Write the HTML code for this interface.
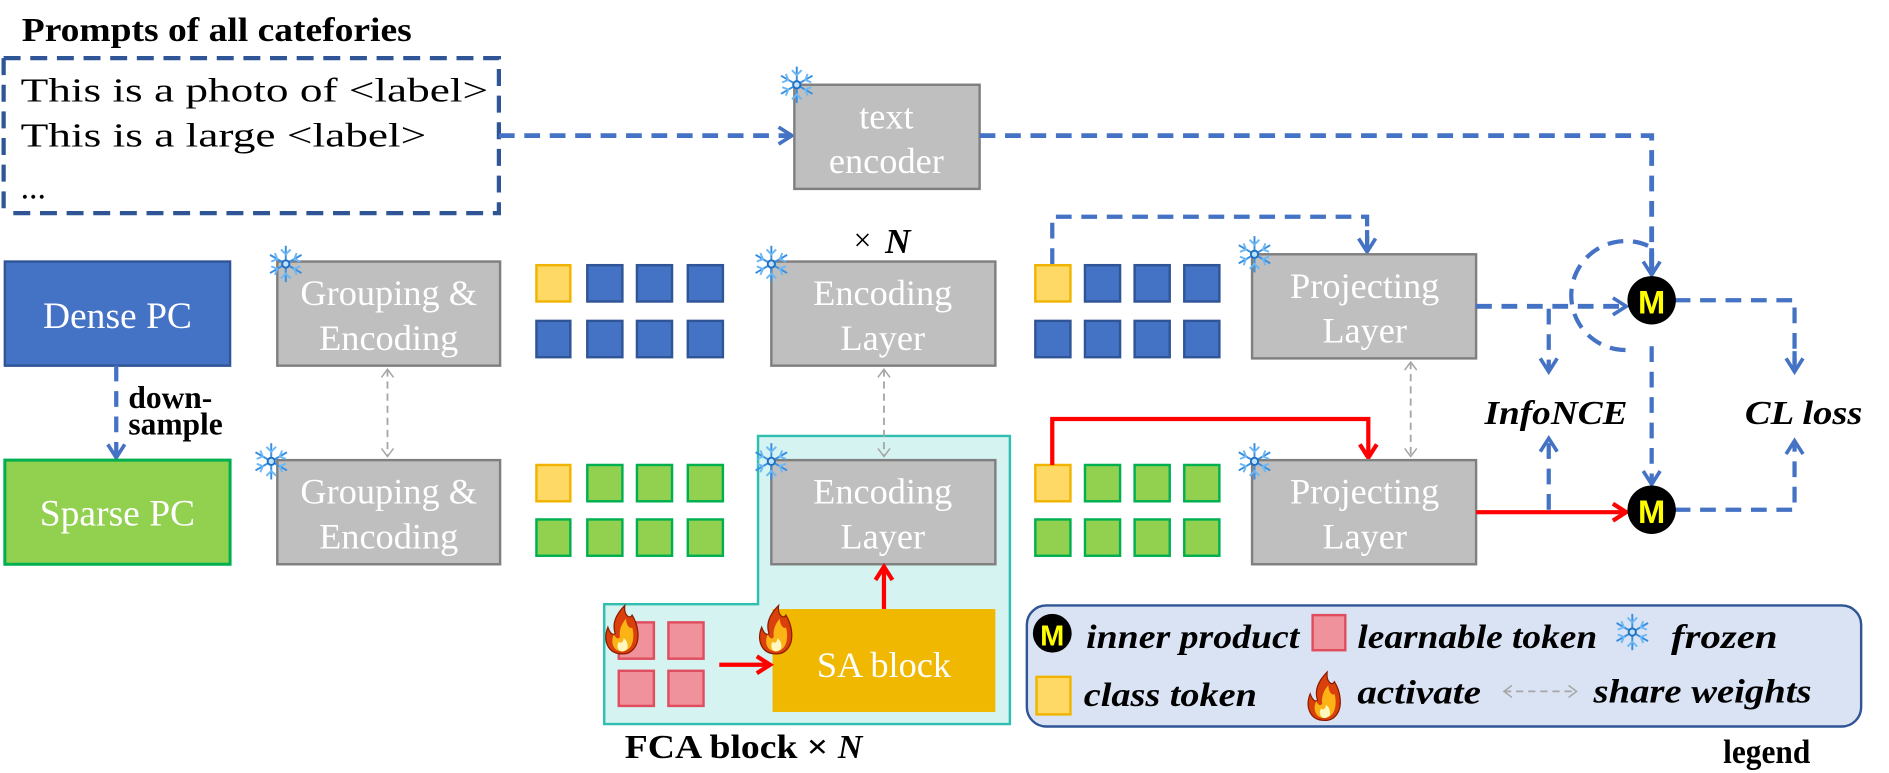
<!DOCTYPE html>
<html><head><meta charset="utf-8"><style>
html,body{margin:0;padding:0;background:#fff;}
svg{display:block;}
text{font-family:"Liberation Serif",serif;}
</style></head><body>
<svg width="1889" height="773" viewBox="0 0 1560 638.4" preserveAspectRatio="none" xmlns="http://www.w3.org/2000/svg">
<defs>
<marker id="ab" viewBox="0 0 14 14" refX="12" refY="7" markerWidth="14" markerHeight="14" orient="auto" markerUnits="userSpaceOnUse" style="overflow:visible">
<path d="M1,0 L12,7 L1,14" fill="none" stroke="#4472c4" stroke-width="3"/></marker>
<marker id="ar" viewBox="0 0 14 14" refX="12" refY="7" markerWidth="14" markerHeight="14" orient="auto" markerUnits="userSpaceOnUse" style="overflow:visible">
<path d="M1,0 L12,7 L1,14" fill="none" stroke="#ff0000" stroke-width="3.5"/></marker>
<marker id="ag" viewBox="0 0 12 12" refX="9" refY="6" markerWidth="10" markerHeight="10" orient="auto-start-reverse" markerUnits="userSpaceOnUse" style="overflow:visible">
<path d="M1,0 L9,6 L1,12" fill="none" stroke="#a6a6a6" stroke-width="1.5"/></marker>
<g id="snow" stroke="#3a8ee0" stroke-width="1.6" fill="none">
<line x1="0" y1="-15" x2="0" y2="15"/><line x1="-13" y1="-7.5" x2="13" y2="7.5"/><line x1="-13" y1="7.5" x2="13" y2="-7.5"/>
<path d="M-4,-12 L0,-8 L4,-12 M-4,12 L0,8 L4,12 M-12,-2 L-7,-4 L-9,-9 M12,2 L7,4 L9,9 M12,-2 L7,-4 L9,-9 M-12,2 L-7,4 L-9,9" stroke="#6ab8f5"/>
<circle r="3" fill="#bfe3ff" stroke="#1f6fc0"/>
</g>
<g id="flame">
<path d="M0,20 C-13,20 -16,8 -12,-2 C-10,4 -7,5 -6,3 C-9,-6 -4,-14 2,-20 C1,-12 6,-8 8,-12 C13,-4 15,8 10,15 C7,19 4,20 0,20 Z" fill="#d9400b" stroke="#8a1a00" stroke-width="1"/>
<path d="M0,18 C-8,18 -10,10 -7,4 C-5,8 -3,8 -2,6 C-3,0 0,-6 3,-9 C3,-3 7,0 8,-2 C10,4 9,12 6,15 C4,17 2,18 0,18 Z" fill="#fcb316"/>
<path d="M0,18 C-4,18 -5,13 -3,10 C-1,12 1,10 1,7 C4,9 5,13 4,16 C3,17 1,18 0,18 Z" fill="#fff6c0"/>
</g>
</defs>

<!-- prompts -->
<text x="18" y="34" font-size="28" font-weight="bold" textLength="322" lengthAdjust="spacingAndGlyphs">Prompts of all catefories</text>
<path d="M3,48 H412 V176 H3" fill="none" stroke="#2f5597" stroke-width="3.5" stroke-dasharray="14,8"/>
<line x1="3" y1="48" x2="3" y2="176" stroke="#2f5597" stroke-width="3.5" stroke-dasharray="14,8"/>
<text x="17" y="84" font-size="28" textLength="386" lengthAdjust="spacingAndGlyphs">This is a photo of &lt;label&gt;</text>
<text x="17" y="121" font-size="28" textLength="335" lengthAdjust="spacingAndGlyphs">This is a large &lt;label&gt;</text>
<text x="17" y="164" font-size="28">...</text>
<line x1="412" y1="112" x2="654" y2="112" stroke="#4472c4" stroke-width="4" stroke-dasharray="13,8" marker-end="url(#ab)"/>

<!-- text encoder -->
<rect x="656" y="70" width="153" height="86" fill="#bfbfbf" stroke="#7f7f7f" stroke-width="2"/>
<text x="732" y="106" font-size="30" fill="#fff" text-anchor="middle">text</text>
<text x="732" y="143" font-size="30" fill="#fff" text-anchor="middle">encoder</text>
<use href="#snow" x="658" y="70"/>
<path d="M809,112 H1364 V240" fill="none" stroke="#4472c4" stroke-width="4" stroke-dasharray="13,8"/>
<line x1="1364" y1="205" x2="1364" y2="227" stroke="#4472c4" stroke-width="4" marker-end="url(#ab)"/>

<!-- dense -->
<rect x="4" y="216" width="186" height="86" fill="#4472c4" stroke="#2f5597" stroke-width="2"/>
<text x="97" y="271" font-size="31" fill="#fff" text-anchor="middle">Dense PC</text>
<line x1="96" y1="302" x2="96" y2="378" stroke="#4472c4" stroke-width="3.5" stroke-dasharray="13,8" marker-end="url(#ab)"/>
<text x="106" y="337" font-size="26" font-weight="bold">down-</text>
<text x="106" y="359" font-size="26" font-weight="bold">sample</text>

<!-- sparse -->
<rect x="4" y="380" width="186" height="86" fill="#92d050" stroke="#00b050" stroke-width="2.5"/>
<text x="97" y="434" font-size="31" fill="#fff" text-anchor="middle">Sparse PC</text>

<!-- grouping boxes -->
<rect x="229" y="216" width="184" height="86" fill="#bfbfbf" stroke="#7f7f7f" stroke-width="2"/>
<text x="321" y="252" font-size="30" fill="#fff" text-anchor="middle">Grouping &amp;</text>
<text x="321" y="289" font-size="30" fill="#fff" text-anchor="middle">Encoding</text>
<use href="#snow" x="236" y="218"/>
<rect x="229" y="380" width="184" height="86" fill="#bfbfbf" stroke="#7f7f7f" stroke-width="2"/>
<text x="321" y="416" font-size="30" fill="#fff" text-anchor="middle">Grouping &amp;</text>
<text x="321" y="453" font-size="30" fill="#fff" text-anchor="middle">Encoding</text>
<use href="#snow" x="224" y="381"/>
<line x1="320" y1="305" x2="320" y2="377" stroke="#a6a6a6" stroke-width="1.5" stroke-dasharray="6,4" marker-start="url(#ag)" marker-end="url(#ag)"/>

<!-- tokens set 1 -->
<g stroke-width="2">
<rect x="443" y="219" width="28" height="30" fill="#ffd966" stroke="#f0b400"/>
<rect x="485" y="219" width="29" height="30" fill="#4472c4" stroke="#2f5597"/>
<rect x="526" y="219" width="29" height="30" fill="#4472c4" stroke="#2f5597"/>
<rect x="568" y="219" width="29" height="30" fill="#4472c4" stroke="#2f5597"/>
<rect x="443" y="265" width="28" height="30" fill="#4472c4" stroke="#2f5597"/>
<rect x="485" y="265" width="29" height="30" fill="#4472c4" stroke="#2f5597"/>
<rect x="526" y="265" width="29" height="30" fill="#4472c4" stroke="#2f5597"/>
<rect x="568" y="265" width="29" height="30" fill="#4472c4" stroke="#2f5597"/>
<rect x="443" y="384" width="28" height="30" fill="#ffd966" stroke="#f0b400"/>
<rect x="485" y="384" width="29" height="30" fill="#92d050" stroke="#00b050"/>
<rect x="526" y="384" width="29" height="30" fill="#92d050" stroke="#00b050"/>
<rect x="568" y="384" width="29" height="30" fill="#92d050" stroke="#00b050"/>
<rect x="443" y="429" width="28" height="30" fill="#92d050" stroke="#00b050"/>
<rect x="485" y="429" width="29" height="30" fill="#92d050" stroke="#00b050"/>
<rect x="526" y="429" width="29" height="30" fill="#92d050" stroke="#00b050"/>
<rect x="568" y="429" width="29" height="30" fill="#92d050" stroke="#00b050"/>
</g>

<!-- FCA region -->
<path d="M626,360 H834 V598 H499 V499 H626 Z" fill="#d4f3f1" stroke="#2ebfb0" stroke-width="2"/>

<!-- encoding layers -->
<text x="705" y="207" font-size="26">×</text>
<text x="731" y="209" font-size="29" font-weight="bold" font-style="italic">N</text>
<rect x="637" y="216" width="185" height="86" fill="#bfbfbf" stroke="#7f7f7f" stroke-width="2"/>
<text x="729" y="252" font-size="30" fill="#fff" text-anchor="middle">Encoding</text>
<text x="729" y="289" font-size="30" fill="#fff" text-anchor="middle">Layer</text>
<use href="#snow" x="637" y="218"/>
<rect x="637" y="380" width="185" height="86" fill="#bfbfbf" stroke="#7f7f7f" stroke-width="2"/>
<text x="729" y="416" font-size="30" fill="#fff" text-anchor="middle">Encoding</text>
<text x="729" y="453" font-size="30" fill="#fff" text-anchor="middle">Layer</text>
<use href="#snow" x="637" y="381"/>
<line x1="730" y1="305" x2="730" y2="377" stroke="#a6a6a6" stroke-width="1.5" stroke-dasharray="6,4" marker-start="url(#ag)" marker-end="url(#ag)"/>

<!-- SA block -->
<rect x="638" y="503" width="184" height="85" fill="#f0b800"/>
<text x="730" y="559" font-size="30" fill="#fff" text-anchor="middle">SA block</text>
<line x1="730" y1="503" x2="730" y2="468" stroke="#ff0000" stroke-width="3.5" marker-end="url(#ar)"/>
<g fill="#ef929c" stroke="#e04d5e" stroke-width="2">
<rect x="511" y="514" width="29" height="30"/><rect x="552" y="514" width="29" height="30"/>
<rect x="511" y="554" width="29" height="29"/><rect x="552" y="554" width="29" height="29"/>
</g>
<line x1="594" y1="549" x2="636" y2="549" stroke="#ff0000" stroke-width="3.5" marker-end="url(#ar)"/>
<use href="#flame" x="514" y="520"/>
<use href="#flame" x="641" y="520"/>
<text x="516" y="626" font-size="28" font-weight="bold" textLength="168" lengthAdjust="spacingAndGlyphs">FCA block ×</text>
<text x="692" y="626" font-size="28" font-weight="bold" font-style="italic">N</text>

<!-- tokens set 2 -->
<g stroke-width="2">
<rect x="855" y="219" width="29" height="30" fill="#ffd966" stroke="#f0b400"/>
<rect x="896" y="219" width="29" height="30" fill="#4472c4" stroke="#2f5597"/>
<rect x="937" y="219" width="29" height="30" fill="#4472c4" stroke="#2f5597"/>
<rect x="978" y="219" width="29" height="30" fill="#4472c4" stroke="#2f5597"/>
<rect x="855" y="265" width="29" height="30" fill="#4472c4" stroke="#2f5597"/>
<rect x="896" y="265" width="29" height="30" fill="#4472c4" stroke="#2f5597"/>
<rect x="937" y="265" width="29" height="30" fill="#4472c4" stroke="#2f5597"/>
<rect x="978" y="265" width="29" height="30" fill="#4472c4" stroke="#2f5597"/>
<rect x="855" y="384" width="29" height="30" fill="#ffd966" stroke="#f0b400"/>
<rect x="896" y="384" width="29" height="30" fill="#92d050" stroke="#00b050"/>
<rect x="937" y="384" width="29" height="30" fill="#92d050" stroke="#00b050"/>
<rect x="978" y="384" width="29" height="30" fill="#92d050" stroke="#00b050"/>
<rect x="855" y="429" width="29" height="30" fill="#92d050" stroke="#00b050"/>
<rect x="896" y="429" width="29" height="30" fill="#92d050" stroke="#00b050"/>
<rect x="937" y="429" width="29" height="30" fill="#92d050" stroke="#00b050"/>
<rect x="978" y="429" width="29" height="30" fill="#92d050" stroke="#00b050"/>
</g>
<path d="M869,218 V179 H1129 V200" fill="none" stroke="#4472c4" stroke-width="3.5" stroke-dasharray="13,8"/>
<line x1="1129" y1="190" x2="1129" y2="208" stroke="#4472c4" stroke-width="3.5" marker-end="url(#ab)"/>
<path d="M869,384 V346 H1130 V378" fill="none" stroke="#ff0000" stroke-width="3.5" marker-end="url(#ar)"/>

<!-- projecting layers -->
<rect x="1034" y="210" width="185" height="86" fill="#bfbfbf" stroke="#7f7f7f" stroke-width="2"/>
<text x="1127" y="246" font-size="30" fill="#fff" text-anchor="middle">Projecting</text>
<text x="1127" y="283" font-size="30" fill="#fff" text-anchor="middle">Layer</text>
<use href="#snow" x="1036" y="210"/>
<rect x="1034" y="380" width="185" height="86" fill="#bfbfbf" stroke="#7f7f7f" stroke-width="2"/>
<text x="1127" y="416" font-size="30" fill="#fff" text-anchor="middle">Projecting</text>
<text x="1127" y="453" font-size="30" fill="#fff" text-anchor="middle">Layer</text>
<use href="#snow" x="1036" y="381"/>
<line x1="1165" y1="299" x2="1165" y2="377" stroke="#a6a6a6" stroke-width="1.5" stroke-dasharray="6,4" marker-start="url(#ag)" marker-end="url(#ag)"/>

<!-- right side -->
<line x1="1219" y1="253" x2="1343" y2="253" stroke="#4472c4" stroke-width="4" stroke-dasharray="13,8" marker-end="url(#ab)"/>
<line x1="1279" y1="255" x2="1279" y2="307" stroke="#4472c4" stroke-width="3.5" stroke-dasharray="13,8" marker-end="url(#ab)"/>
<path d="M1361,203 A45,45 0 1 0 1345,289" fill="none" stroke="#4472c4" stroke-width="3.5" stroke-dasharray="13,8"/>
<path d="M1383,248 H1482 V300" fill="none" stroke="#4472c4" stroke-width="3.5" stroke-dasharray="13,8"/>
<line x1="1482" y1="290" x2="1482" y2="307" stroke="#4472c4" stroke-width="3.5" marker-end="url(#ab)"/>
<line x1="1364" y1="286" x2="1364" y2="400" stroke="#4472c4" stroke-width="3.5" stroke-dasharray="13,8" marker-end="url(#ab)"/>
<text x="1226" y="350" font-size="28" font-weight="bold" font-style="italic" textLength="118" lengthAdjust="spacingAndGlyphs">InfoNCE</text>
<text x="1441" y="350" font-size="28" font-weight="bold" font-style="italic" textLength="97" lengthAdjust="spacingAndGlyphs">CL loss</text>
<line x1="1219" y1="423" x2="1343" y2="423" stroke="#ff0000" stroke-width="3.5" marker-end="url(#ar)"/>
<line x1="1279" y1="421" x2="1279" y2="362" stroke="#4472c4" stroke-width="3.5" stroke-dasharray="13,8" marker-end="url(#ab)"/>
<path d="M1383,421 H1482 V364" fill="none" stroke="#4472c4" stroke-width="3.5" stroke-dasharray="13,8" marker-end="url(#ab)"/>
<g>
<circle cx="1364" cy="248" r="20" fill="#000"/>
<text x="1364" y="259" font-size="27" font-weight="bold" fill="#ffff00" text-anchor="middle" style="font-family:'Liberation Sans',sans-serif">M</text>
<circle cx="1364" cy="421" r="20" fill="#000"/>
<text x="1364" y="432" font-size="27" font-weight="bold" fill="#ffff00" text-anchor="middle" style="font-family:'Liberation Sans',sans-serif">M</text>
</g>

<!-- legend -->
<rect x="848" y="500" width="689" height="100" rx="16" fill="#dae3f3" stroke="#2f5597" stroke-width="2"/>
<circle cx="869" cy="523" r="16" fill="#000"/>
<text x="869" y="533" font-size="24" font-weight="bold" fill="#ffff00" text-anchor="middle" style="font-family:'Liberation Sans',sans-serif">M</text>
<text x="897" y="535" font-size="28" font-weight="bold" font-style="italic" textLength="176" lengthAdjust="spacingAndGlyphs">inner product</text>
<rect x="1084" y="508" width="27" height="29" fill="#ef929c" stroke="#e04d5e" stroke-width="2"/>
<text x="1121" y="535" font-size="28" font-weight="bold" font-style="italic" textLength="198" lengthAdjust="spacingAndGlyphs">learnable token</text>
<use href="#snow" x="1348" y="522"/>
<text x="1380" y="535" font-size="28" font-weight="bold" font-style="italic" textLength="88" lengthAdjust="spacingAndGlyphs">frozen</text>
<rect x="856" y="559" width="28" height="31" fill="#ffd966" stroke="#f0b400" stroke-width="2"/>
<text x="895" y="583" font-size="28" font-weight="bold" font-style="italic" textLength="143" lengthAdjust="spacingAndGlyphs">class token</text>
<use href="#flame" x="1094" y="575"/>
<text x="1121" y="581" font-size="28" font-weight="bold" font-style="italic" textLength="102" lengthAdjust="spacingAndGlyphs">activate</text>
<line x1="1242" y1="571" x2="1302" y2="571" stroke="#a6a6a6" stroke-width="1.5" stroke-dasharray="6,4" marker-start="url(#ag)" marker-end="url(#ag)"/>
<text x="1316" y="580" font-size="28" font-weight="bold" font-style="italic" textLength="180" lengthAdjust="spacingAndGlyphs">share weights</text>
<text x="1423" y="630" font-size="28" font-weight="bold" textLength="72" lengthAdjust="spacingAndGlyphs">legend</text>
</svg>
</body></html>
